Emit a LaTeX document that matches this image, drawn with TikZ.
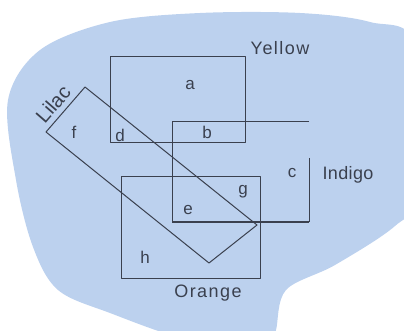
\documentclass[tikz,border=0pt]{standalone}
\usepackage{fontspec}
\setmainfont{Liberation Sans}
\definecolor{blobblue}{RGB}{188,209,238}
\definecolor{ink}{RGB}{58,64,78}
\begin{document}
\begin{tikzpicture}[x=1pt,y=-1pt,line join=round,
  edge/.style={draw=ink,line width=1pt},
  lbl/.style={text=ink,inner sep=0pt,font=\fontsize{18}{20}\selectfont\addfontfeatures{LetterSpace=8}},
  lbltight/.style={text=ink,inner sep=0pt,font=\fontsize{18}{20}\selectfont\addfontfeatures{LetterSpace=2}},
  lblrot/.style={text=ink,inner sep=0pt,font=\fontsize{20}{22}\selectfont},
  small/.style={text=ink,inner sep=0pt,font=\fontsize{17}{20}\selectfont}]
\useasboundingbox (0,0) rectangle (404,331);
\clip (0,0) rectangle (404,331);
% background blob
\fill[blobblue] plot[smooth cycle,tension=0.55] coordinates {
  (8,100) (40,50) (110,22) (200,13) (300,13) (370,22) (415,45)
  (420,190) (395,226) (335,265) (286,290) (276,330) (270,345)
  (190,340) (110,313) (58,290) (33,247) (16,180)};
% corners
\coordinate (y1) at (110,57);  \coordinate (y2) at (245,143);
\coordinate (o1) at (121,177); \coordinate (o2) at (260,278);
\coordinate (iTL) at (172,122); \coordinate (iTR) at (309,122);
\coordinate (iBL) at (172,222); \coordinate (iBR) at (309,222);
\coordinate (iR) at (309,158);
\coordinate (lT) at (85,87);  \coordinate (lR) at (257,225);
\coordinate (lB) at (209,263); \coordinate (lL) at (46,132);
% sets
\draw[edge] (y1) rectangle (y2);
\draw[edge] (o1) rectangle (o2);
\draw[edge] (iTR) -- (iTL) -- (iBL);
\draw[edge,line width=1.8pt] (iBL) -- (iBR);
\draw[edge] (iR) -- (iBR);
\draw[edge] (lT) -- (lR) -- (lB) -- (lL) -- cycle;
% set names
\node[lbl] (yellow) at (280,48) {Yellow};
\node[lbltight] (indigo) at (348,175) {Indigo};
\node[lbl] (orange) at (208,293) {Orange};
\node[lblrot,rotate=49] (lilac) at (53,104) {Lilac};
% regions
\node[small] (a) at (190,85) {a};
\node[small] (b) at (207,132) {b};
\node[small] (c) at (292,173) {c};
\node[small] (d) at (120,135) {d};
\node[small] (e) at (188,210) {e};
\node[small] (f) at (74,132) {f};
\node[small] (g) at (243,192) {g};
\node[small] (h) at (145,257) {h};
\end{tikzpicture}
\end{document}
